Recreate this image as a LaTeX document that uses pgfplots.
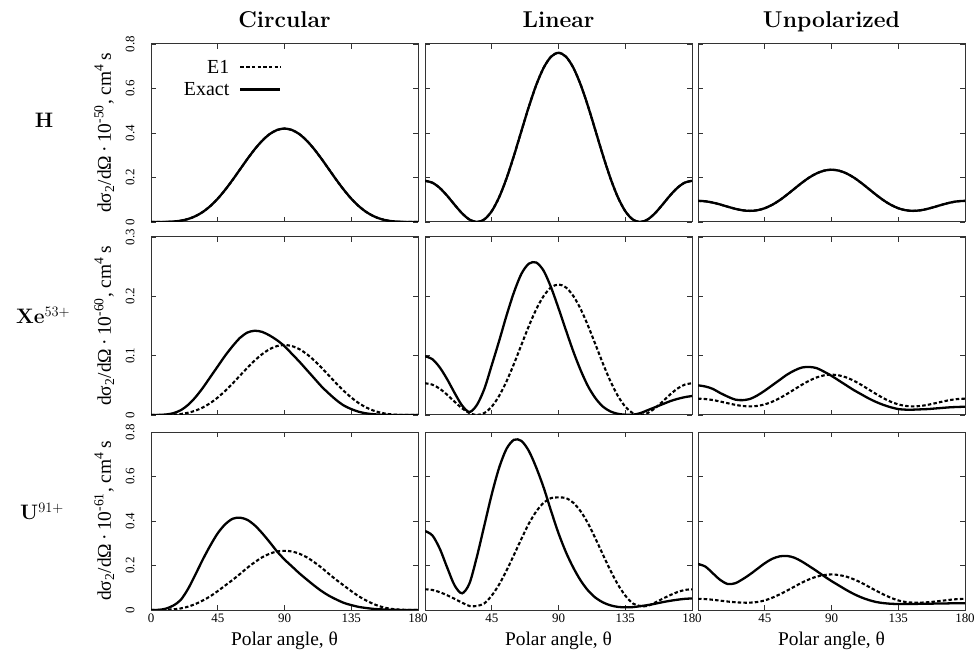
\documentclass[border=0pt]{standalone}
\usepackage{fontspec}
\usepackage{pgfplots}
\usepackage{pgfplotstable}
\pgfplotsset{compat=1.18}
\newfontfamily\tms{Liberation Serif}

% H: E1 and exact coincide
\pgfplotstableread{
th  c      l      u
0   0      0.185  0.095
5   0      0.1765 0.0930
10  0.0004 0.1527 0.0872
15  0.0019 0.1175 0.0786
20  0.0057 0.0771 0.0687
25  0.0134 0.0390 0.0595
30  0.0263 0.0109 0.0526
35  0.0455 0.0000 0.0500
40  0.0717 0.0117 0.0528
45  0.1050 0.0488 0.0619
50  0.1446 0.1116 0.0771
55  0.1891 0.1968 0.0978
60  0.2363 0.2987 0.1227
65  0.2834 0.4089 0.1495
70  0.3275 0.5180 0.1760
75  0.3656 0.6159 0.1999
80  0.3951 0.6934 0.2187
85  0.4136 0.7432 0.2308
90  0.4200 0.7604 0.2350
95  0.4136 0.7432 0.2308
100 0.3951 0.6934 0.2187
105 0.3656 0.6159 0.1999
110 0.3275 0.5180 0.1760
115 0.2834 0.4089 0.1495
120 0.2363 0.2987 0.1227
125 0.1891 0.1968 0.0978
130 0.1446 0.1116 0.0771
135 0.1050 0.0488 0.0619
140 0.0717 0.0117 0.0528
145 0.0455 0.0000 0.0500
150 0.0263 0.0109 0.0526
155 0.0134 0.0390 0.0595
160 0.0057 0.0771 0.0687
165 0.0019 0.1175 0.0786
170 0.0004 0.1527 0.0872
175 0      0.1765 0.0930
180 0      0.185  0.095
}\tH

% Xe53+
\pgfplotstableread{
th  cex    ce1    lex    le1    uex    ue1
0   0      0      0.099  0.0535 0.050  0.0275
5   0.0001 0      0.094  0.0511 0.048  0.0269
10  0.0008 0.0001 0.080  0.0442 0.044  0.0252
15  0.003  0.0005 0.060  0.0340 0.037  0.0227
20  0.008  0.0016 0.037  0.0223 0.031  0.0199
25  0.017  0.0038 0.016  0.0113 0.026  0.0172
30  0.030  0.0074 0.005  0.0032 0.025  0.0152
35  0.046  0.0128 0.017  0.0000 0.027  0.0145
40  0.064  0.0201 0.044  0.0034 0.033  0.0153
45  0.082  0.0295 0.084  0.0141 0.041  0.0179
50  0.100  0.0406 0.125  0.0323 0.050  0.0223
55  0.116  0.0531 0.168  0.0569 0.059  0.0283
60  0.130  0.0664 0.207  0.0864 0.068  0.0355
65  0.139  0.0796 0.238  0.1183 0.075  0.0432
70  0.142  0.0920 0.255  0.1499 0.080  0.0509
75  0.140  0.1027 0.257  0.1782 0.081  0.0578
80  0.134  0.1110 0.243  0.2006 0.079  0.0633
85  0.126  0.1162 0.215  0.2150 0.073  0.0668
90  0.116  0.1180 0.180  0.2200 0.066  0.0680
95  0.103  0.1162 0.143  0.2150 0.058  0.0668
100 0.090  0.1110 0.107  0.2006 0.050  0.0633
105 0.076  0.1027 0.075  0.1782 0.042  0.0578
110 0.062  0.0920 0.048  0.1499 0.035  0.0509
115 0.048  0.0796 0.028  0.1183 0.028  0.0432
120 0.036  0.0664 0.014  0.0864 0.022  0.0355
125 0.025  0.0531 0.006  0.0569 0.017  0.0283
130 0.016  0.0406 0.002  0.0323 0.013  0.0223
135 0.010  0.0295 0.0005 0.0141 0.010  0.0179
140 0.0055 0.0201 0.0005 0.0034 0.009  0.0153
145 0.0028 0.0128 0.003  0.0000 0.009  0.0145
150 0.0013 0.0074 0.008  0.0032 0.0095 0.0152
155 0.0005 0.0038 0.013  0.0113 0.010  0.0172
160 0.0002 0.0016 0.018  0.0223 0.011  0.0199
165 0.0001 0.0005 0.023  0.0340 0.012  0.0227
170 0      0.0001 0.027  0.0442 0.013  0.0252
175 0      0      0.030  0.0511 0.0135 0.0269
180 0      0      0.032  0.0535 0.014  0.0275
}\tXe

% U91+
\pgfplotstableread{
th  cex    ce1    lex    le1    uex    ue1
0   0      0      0.355  0.093  0.207  0.050
5   0.0005 0.0001 0.335  0.090  0.195  0.049
10  0.006  0.001  0.275  0.080  0.165  0.046
15  0.020  0.003  0.190  0.066  0.135  0.042
20  0.045  0.007  0.110  0.050  0.117  0.038
25  0.095  0.015  0.075  0.033  0.120  0.035
30  0.160  0.027  0.120  0.018  0.138  0.033
35  0.228  0.043  0.240  0.018  0.160  0.033
40  0.290  0.062  0.380  0.030  0.185  0.036
45  0.345  0.085  0.520  0.065  0.210  0.043
50  0.385  0.110  0.640  0.115  0.230  0.055
55  0.410  0.135  0.725  0.178  0.241  0.070
60  0.415  0.162  0.765  0.248  0.243  0.087
65  0.405  0.190  0.760  0.320  0.235  0.105
70  0.380  0.215  0.715  0.388  0.218  0.123
75  0.345  0.237  0.640  0.443  0.197  0.138
80  0.305  0.253  0.550  0.482  0.175  0.150
85  0.263  0.263  0.445  0.503  0.152  0.157
90  0.227  0.266  0.345  0.506  0.130  0.160
95  0.196  0.263  0.260  0.503  0.110  0.157
100 0.165  0.253  0.190  0.482  0.090  0.150
105 0.137  0.237  0.132  0.443  0.072  0.138
110 0.110  0.215  0.087  0.388  0.057  0.123
115 0.085  0.190  0.055  0.320  0.045  0.105
120 0.064  0.162  0.034  0.248  0.036  0.087
125 0.047  0.135  0.021  0.178  0.031  0.070
130 0.032  0.110  0.014  0.115  0.028  0.055
135 0.022  0.085  0.012  0.065  0.027  0.043
140 0.014  0.062  0.013  0.030  0.027  0.036
145 0.009  0.043  0.017  0.018  0.027  0.033
150 0.005  0.027  0.022  0.018  0.028  0.033
155 0.003  0.015  0.028  0.033  0.028  0.035
160 0.0015 0.007  0.035  0.050  0.029  0.038
165 0.0006 0.003  0.041  0.066  0.029  0.042
170 0.0002 0.001  0.046  0.080  0.030  0.046
175 0      0.0001 0.050  0.090  0.030  0.049
180 0      0      0.052  0.093  0.030  0.050
}\tU

\pgfplotsset{
  panel/.style={
    scale only axis, width=267bp, height=178bp, anchor=south west,
    xmin=0, xmax=180, ymin=0, xtick={0,45,90,135,180},
    tick align=inside, major tick length=5bp,
    axis line style={line width=1bp, black!80},
    every tick/.style={black!80, line width=0.8bp},
    tick label style={font=\tms\fontsize{13}{13}\selectfont},
    xticklabels={}, yticklabels={},
    yticklabel style={rotate=90, anchor=south},
    yticklabel shift=13bp,
    label style={font=\tms\fontsize{19.5}{21}\selectfont},
  },
  r1/.style={ymax=0.8, ytick={0,0.2,0.4,0.6,0.8}},
  r2/.style={ymax=0.3, ytick={0,0.1,0.2,0.3}},
  r3/.style={ymax=0.8, ytick={0,0.2,0.4,0.6,0.8}},
  firstcol/.style={ylabel style={at={(axis description cs:-0.175,0.5)}, anchor=center}},
  bottom/.style={xlabel={Polar angle, θ},
    xlabel style={at={(axis description cs:0.5,-0.175)}, anchor=center}},
  ex/.style={black, line width=2.3bp, smooth},
  eo/.style={black, line width=2.1bp, dash pattern=on 3.5bp off 2.2bp, smooth},
}
\tikzset{
  ttl/.style={font=\bfseries\fontsize{23}{23}\selectfont, anchor=base},
  rowl/.style={font=\fontsize{21}{21}\selectfont, anchor=base},
}

\begin{document}
\begin{tikzpicture}
\useasboundingbox (0,0) rectangle (979bp,656bp);

\node[ttl] at (284.5bp,628bp) {Circular};
\node[ttl] at (558.5bp,628bp) {Linear};
\node[ttl] at (831.5bp,628bp) {Unpolarized};
\node[rowl] at (44bp,528bp) {\textbf{H}};
\node[rowl] at (43bp,332bp) {\textbf{Xe}$^{53+}$};
\node[rowl] at (42bp,136bp) {\textbf{U}$^{91+}$};

% row 1: H
\begin{axis}[panel, r1, firstcol, at={(151bp,434bp)},
  yticklabels={0,0.2,0.4,0.6,0.8},
  ylabel={dσ\textsubscript{2}/dΩ\,·\,10\textsuperscript{-50}, cm\textsuperscript{4}\,s},
  legend style={draw=none, fill=none, inner sep=0pt,
    at={(axis description cs:0.49,0.92)}, anchor=north east,
    font=\tms\fontsize{20}{21}\selectfont, row sep=4bp, column sep=9bp,
    nodes={inner sep=1bp, text height=14bp, text depth=2bp}},
  legend plot pos=right, legend cell align=right,
  legend image code/.code={\draw[#1] (0bp,0bp) -- (40bp,0bp);}]
\addplot[eo] table[x=th, y=c] {\tH};
\addlegendentry{E1}
\addplot[ex] table[x=th, y=c] {\tH};
\addlegendentry{Exact}
\end{axis}
\begin{axis}[panel, r1, at={(425bp,434bp)}]
\addplot[eo] table[x=th, y=l] {\tH};
\addplot[ex] table[x=th, y=l] {\tH};
\end{axis}
\begin{axis}[panel, r1, at={(698bp,434bp)}]
\addplot[eo] table[x=th, y=u] {\tH};
\addplot[ex] table[x=th, y=u] {\tH};
\end{axis}

% row 2: Xe53+
\begin{axis}[panel, r2, firstcol, at={(151bp,241bp)},
  yticklabels={0,0.1,0.2,0.3},
  ylabel={dσ\textsubscript{2}/dΩ\,·\,10\textsuperscript{-60}, cm\textsuperscript{4}\,s}]
\addplot[eo] table[x=th, y=ce1] {\tXe};
\addplot[ex] table[x=th, y=cex] {\tXe};
\end{axis}
\begin{axis}[panel, r2, at={(425bp,241bp)}]
\addplot[eo] table[x=th, y=le1] {\tXe};
\addplot[ex] table[x=th, y=lex] {\tXe};
\end{axis}
\begin{axis}[panel, r2, at={(698bp,241bp)}]
\addplot[eo] table[x=th, y=ue1] {\tXe};
\addplot[ex] table[x=th, y=uex] {\tXe};
\end{axis}

% row 3: U91+
\begin{axis}[panel, r3, firstcol, bottom, at={(151bp,46bp)},
  xticklabels={0,45,90,135,180}, yticklabels={0,0.2,0.4,0.6,0.8},
  ylabel={dσ\textsubscript{2}/dΩ\,·\,10\textsuperscript{-61}, cm\textsuperscript{4}\,s}]
\addplot[eo] table[x=th, y=ce1] {\tU};
\addplot[ex] table[x=th, y=cex] {\tU};
\end{axis}
\begin{axis}[panel, r3, bottom, at={(425bp,46bp)}, xticklabels={{},45,90,135,180}]
\addplot[eo] table[x=th, y=le1] {\tU};
\addplot[ex] table[x=th, y=lex] {\tU};
\end{axis}
\begin{axis}[panel, r3, bottom, at={(698bp,46bp)}, xticklabels={{},45,90,135,180}]
\addplot[eo] table[x=th, y=ue1] {\tU};
\addplot[ex] table[x=th, y=uex] {\tU};
\end{axis}
\end{tikzpicture}
\end{document}
